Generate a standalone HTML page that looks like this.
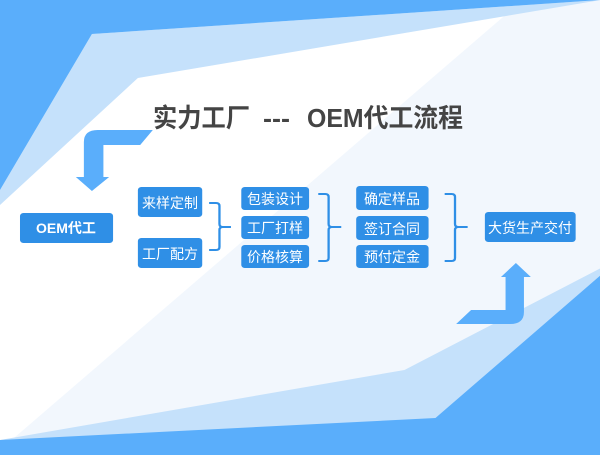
<!DOCTYPE html>
<html><head><meta charset="utf-8"><style>
html,body{margin:0;padding:0;background:#fff;}
svg{display:block;}
text{font-family:"Liberation Sans","Noto Sans CJK SC",sans-serif;}
</style></head><body>
<svg width="600" height="455" viewBox="0 0 600 455" xmlns="http://www.w3.org/2000/svg">
<rect width="600" height="455" fill="#ffffff"/>
<g transform="scale(1.149,1)">
<polygon points="455,0 523,0 523,455 0,455 0,450" fill="#f2f7fd"/>
<polygon points="80,34 523,0 120,78 0,205 0,190" fill="#c5e1fb"/>
<polygon points="0,0 523,0 80,34 0,190" fill="#5aaefb"/>
<polygon points="0,440 352,370 523,268 523,455 0,455" fill="#c5e1fb"/>
<polygon points="0,440 379,418 523,275 523,455 0,455" fill="#5aaefb"/>
<path d="M133,130 L122,145 L90,145 L90,177 L95,177 L80,191 L66,177 L73,177 L73,142 Q73,130 85,130 Z" fill="#5aaefb"/>
<path d="M410,310 L440,310 L440,277 L436,277 L449,263 L462,277 L456,277 L456,312 Q456,324 444,324 L397,324 Z" fill="#5aaefb"/>
<g fill="#2f8fe6">
<rect x="17.4" y="213" width="81" height="30" rx="3"/>
<rect x="120" y="187" width="56" height="30" rx="3"/>
<rect x="120" y="238" width="56" height="30" rx="3"/>
<rect x="210" y="187" width="59" height="23" rx="3"/>
<rect x="210" y="216" width="59" height="23" rx="3"/>
<rect x="210" y="245" width="59" height="23" rx="3"/>
<rect x="310" y="186" width="63" height="24" rx="3"/>
<rect x="310" y="216" width="63" height="24" rx="3"/>
<rect x="310" y="245" width="63" height="23" rx="3"/>
<rect x="422" y="212" width="79" height="30" rx="3"/>
</g>
<g fill="none" stroke="#2f8fe6" stroke-width="2">
<path d="M182,203 H188 Q191,203 191,206 V224 Q191,227 194,227 H201 M194,227 Q191,227 191,230 V247 Q191,250 188,250 H182"/>
<path d="M277,194 H283 Q286,194 286,197 V224 Q286,227 289,227 H297 M289,227 Q286,227 286,230 V258 Q286,261 283,261 H277"/>
<path d="M387,194 H393 Q396,194 396,197 V224 Q396,227 399,227 H407 M399,227 Q396,227 396,230 V258 Q396,261 393,261 H387"/>
</g>
</g>
<text x="153" y="127" font-size="26" font-weight="bold" fill="#444" textLength="97" lengthAdjust="spacingAndGlyphs">实力工厂</text>
<text x="263" y="127" font-size="26" font-weight="bold" fill="#444" textLength="27" lengthAdjust="spacingAndGlyphs">---</text>
<text x="307" y="127" font-size="26" font-weight="bold" fill="#444" textLength="156" lengthAdjust="spacingAndGlyphs">OEM代工流程</text>
<g fill="#fff" font-size="14" text-anchor="middle">
<text x="66" y="233" font-weight="bold">OEM代工</text>
<text x="170" y="208">来样定制</text>
<text x="170" y="259">工厂配方</text>
<text x="275" y="204">包装设计</text>
<text x="275" y="233">工厂打样</text>
<text x="275" y="262">价格核算</text>
<text x="392" y="204">确定样品</text>
<text x="392" y="234">签订合同</text>
<text x="392" y="262">预付定金</text>
<text x="530" y="233">大货生产交付</text>
</g>
</svg>
</body></html>
